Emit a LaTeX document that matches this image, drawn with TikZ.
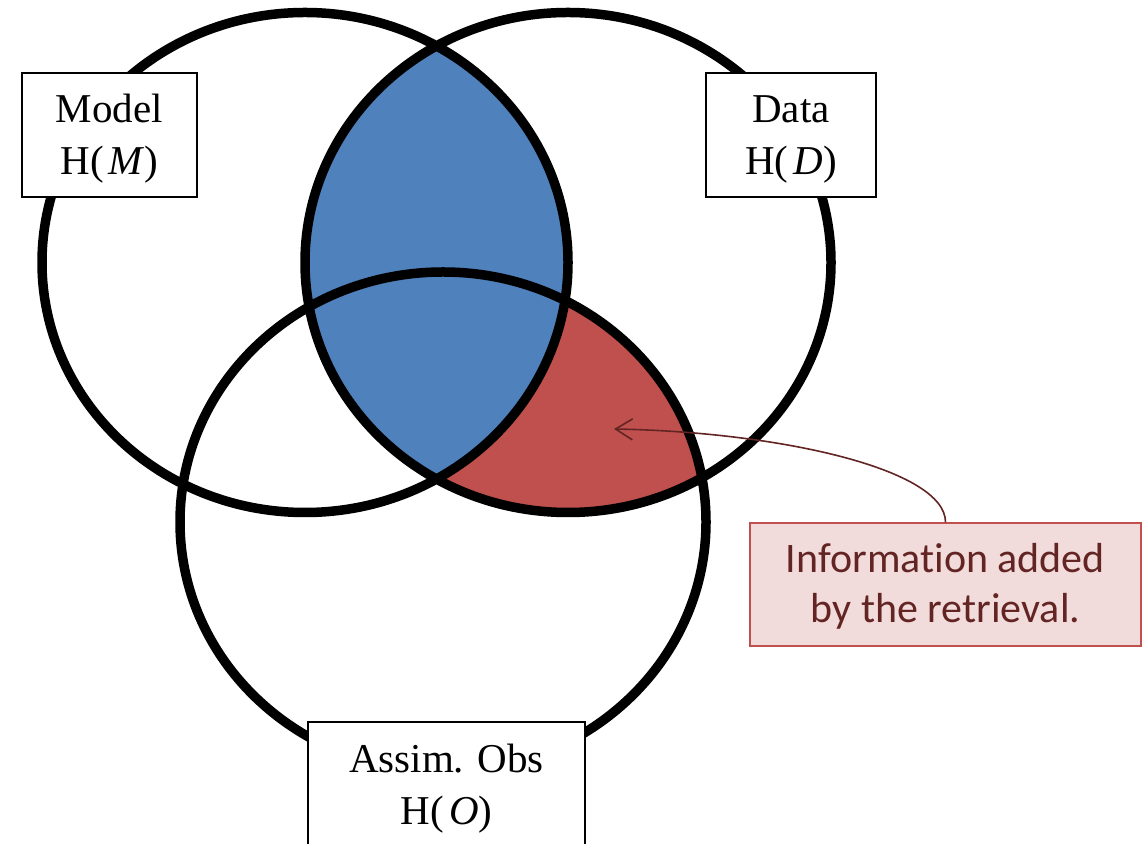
\documentclass[tikz,border=0pt]{standalone}
\usepackage{fontspec}
\setmainfont{Liberation Serif}
\newfontfamily\calibri[Ligatures=NoCommon]{Carlito}
\usetikzlibrary{arrows.meta}

\definecolor{setblue}{HTML}{4F81BD}
\definecolor{setred}{HTML}{C0504D}
\definecolor{notefill}{HTML}{F2DCDB}
\definecolor{notetext}{HTML}{632523}

\newcommand{\entropy}[1]{H(\kern5pt\textit{#1})}

\begin{document}
\begin{tikzpicture}[x=1pt, y=1pt,
    ring/.style={x radius=263, y radius=250},
    setbox/.style={draw=black, line width=1.8pt, fill=white, align=center,
        text height=102pt, text depth=22pt, inner sep=0pt,
        font=\fontsize{41}{52}\selectfont},
    notebox/.style={draw=setred, line width=1.5pt, fill=notefill, text=notetext,
        align=center, minimum width=391pt, text height=100pt, text depth=23pt,
        inner sep=0pt, font=\calibri\fontsize{42}{50}\selectfont},
    notearrow/.style={draw=notetext, line width=1.6pt,
        -{Straight Barb[length=17pt, width=21pt]}}]

    \useasboundingbox (0,0) rectangle (1145,843);

    \coordinate (cM) at (305,580.5);
    \coordinate (cD) at (568,580.5);
    \coordinate (cO) at (443,321);

    % Schnittmengen
    \begin{scope}
        \clip (cD) ellipse [ring];
        \fill[setred] (cO) ellipse [ring];
    \end{scope}
    \begin{scope}
        \clip (cM) ellipse [ring];
        \fill[setblue] (cD) ellipse [ring];
    \end{scope}

    % Kreise
    \draw[line width=9.5pt] (cM) ellipse [ring] (cD) ellipse [ring] (cO) ellipse [ring];

    % Beschriftung
    \node[setbox, minimum width=175pt] (model) at (109.5,708) {Model\\\entropy{M}};
    \node[setbox, minimum width=170pt] (data) at (791,708) {Data\\\entropy{D}};
    \node[setbox, minimum width=277pt] (obs) at (446.5,59) {Assim. Obs\\\entropy{O}};

    % Hinweis
    \node[notebox] (note) at (945.5,258.5) {Information added\\by the retrieval.};
    \coordinate (gain) at (614,414);
    \draw[notearrow] (note.north) .. controls +(0,53) and +(166,-3) .. (gain);
\end{tikzpicture}
\end{document}
